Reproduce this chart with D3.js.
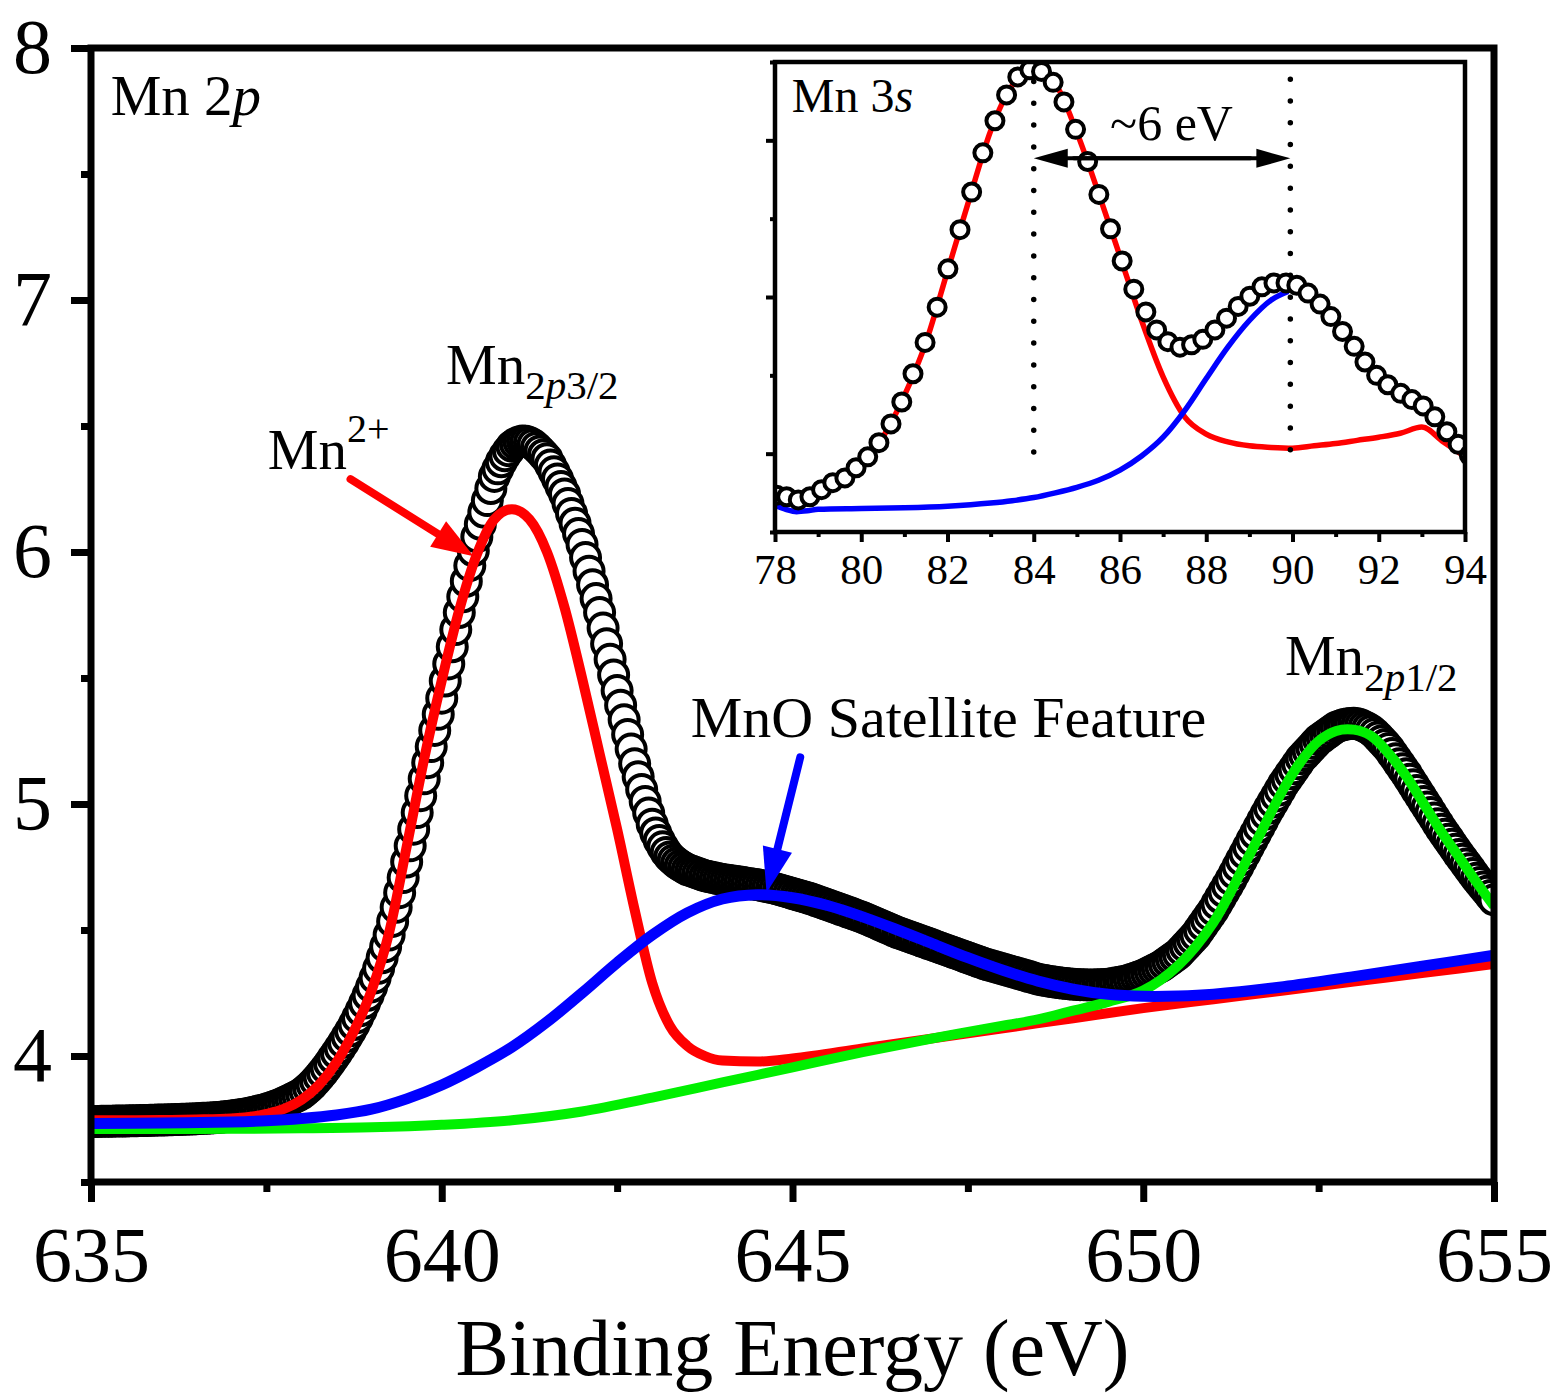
<!DOCTYPE html>
<html><head><meta charset="utf-8">
<script src="https://cdn.jsdelivr.net/npm/d3@7"></script>
<style>body{margin:0;background:#fff}</style>
</head><body>
<svg id="chart" width="1559" height="1394"></svg>
<script>
// ---------- DATA ----------
// Mn 2p measured data, 635.00 ... 655.00 eV in 0.05 eV steps
const mn2pIntensity = [
3.740,3.740,3.740,3.741,3.741,3.741,3.741,3.742,3.742,3.742,3.742,3.743,3.743,3.743,3.744,3.744,3.744,3.745,3.745,3.746,
3.746,3.746,3.747,3.747,3.748,3.748,3.749,3.749,3.750,3.750,3.751,3.752,3.753,3.753,3.754,3.755,3.756,3.757,3.759,3.760,
3.762,3.764,3.766,3.768,3.770,3.773,3.776,3.779,3.783,3.786,3.790,3.794,3.799,3.804,3.809,3.815,3.821,3.828,3.835,3.842,
3.850,3.861,3.873,3.886,3.901,3.917,3.934,3.952,3.971,3.991,4.011,4.032,4.054,4.077,4.100,4.125,4.152,4.180,4.210,4.241,
4.274,4.310,4.348,4.390,4.434,4.480,4.534,4.590,4.648,4.708,4.770,4.834,4.900,4.966,5.033,5.100,5.164,5.228,5.292,5.356,
5.420,5.488,5.556,5.624,5.692,5.760,5.822,5.884,5.946,6.005,6.060,6.110,6.158,6.204,6.252,6.300,6.330,6.358,6.382,6.402,
6.420,6.430,6.437,6.440,6.439,6.435,6.427,6.415,6.401,6.386,6.370,6.345,6.318,6.290,6.260,6.230,6.192,6.153,6.114,6.073,
6.030,5.978,5.924,5.870,5.815,5.760,5.698,5.636,5.574,5.512,5.450,5.392,5.334,5.276,5.218,5.160,5.108,5.058,5.010,4.964,
4.920,4.885,4.855,4.830,4.808,4.790,4.777,4.766,4.756,4.748,4.740,4.735,4.730,4.725,4.720,4.715,4.712,4.709,4.706,4.703,
4.700,4.698,4.696,4.694,4.692,4.690,4.688,4.686,4.684,4.682,4.680,4.677,4.674,4.671,4.668,4.665,4.661,4.657,4.653,4.649,
4.645,4.641,4.637,4.633,4.629,4.625,4.620,4.615,4.610,4.605,4.600,4.595,4.590,4.585,4.580,4.575,4.570,4.565,4.560,4.555,
4.550,4.544,4.538,4.532,4.526,4.520,4.514,4.508,4.502,4.496,4.490,4.485,4.480,4.475,4.470,4.465,4.460,4.455,4.450,4.445,
4.440,4.435,4.430,4.425,4.420,4.415,4.410,4.405,4.400,4.395,4.390,4.385,4.380,4.375,4.370,4.365,4.361,4.357,4.353,4.349,
4.345,4.341,4.337,4.333,4.329,4.325,4.321,4.317,4.313,4.309,4.305,4.302,4.300,4.297,4.295,4.293,4.291,4.289,4.288,4.286,
4.285,4.284,4.283,4.283,4.282,4.282,4.282,4.283,4.283,4.284,4.285,4.287,4.290,4.292,4.295,4.297,4.302,4.306,4.311,4.315,
4.320,4.327,4.334,4.341,4.348,4.355,4.365,4.375,4.385,4.395,4.405,4.420,4.435,4.450,4.465,4.480,4.500,4.520,4.540,4.560,
4.580,4.604,4.628,4.652,4.676,4.700,4.726,4.752,4.778,4.804,4.830,4.856,4.882,4.908,4.934,4.960,4.984,5.008,5.032,5.056,
5.080,5.100,5.120,5.140,5.160,5.180,5.195,5.210,5.225,5.240,5.255,5.265,5.275,5.285,5.295,5.305,5.310,5.314,5.317,5.319,
5.320,5.318,5.314,5.308,5.301,5.292,5.280,5.266,5.251,5.236,5.220,5.200,5.180,5.160,5.140,5.120,5.098,5.076,5.054,5.032,
5.010,4.988,4.966,4.944,4.922,4.900,4.880,4.860,4.840,4.820,4.800,4.781,4.762,4.743,4.724,4.705,4.688,4.671,4.654,4.637,
4.620];
const mn2pEnergy = mn2pIntensity.map((_, i) => 635 + i * 0.05);

// Mn2+ component (red)
const redEnergy = [635,635.5,636,636.5,637,637.5,637.75,638,638.25,638.5,638.75,639,639.25,639.5,639.75,640,640.25,640.5,640.75,641,641.25,641.5,641.75,642,642.25,642.5,642.75,643,643.25,643.5,643.75,644,644.5,645,646,647,648,649,650,651,652,653,654,655];
const redValue  = [3.745,3.745,3.746,3.748,3.752,3.770,3.790,3.826,3.885,3.975,4.100,4.260,4.490,4.830,5.180,5.490,5.770,5.990,6.130,6.170,6.130,6.000,5.780,5.500,5.200,4.900,4.580,4.290,4.120,4.040,4.000,3.982,3.978,3.990,4.030,4.070,4.110,4.150,4.190,4.225,4.260,4.295,4.330,4.365];

// MnO satellite component (blue)
const blueEnergy = [635,636,637,637.5,638,638.5,639,639.5,640,640.5,641,641.5,642,642.5,643,643.5,644,644.5,645,645.5,646,646.5,647,647.5,648,648.5,649,649.5,650,650.5,651,652,653,654,655];
const blueValue  = [3.732,3.734,3.738,3.743,3.752,3.766,3.789,3.830,3.885,3.955,4.035,4.135,4.250,4.370,4.480,4.568,4.623,4.640,4.628,4.597,4.552,4.500,4.445,4.390,4.340,4.297,4.265,4.245,4.237,4.238,4.245,4.275,4.315,4.357,4.400];

// Mn 2p1/2 component (green)
const greenEnergy = [635,636,637,638,639,640,641,642,643,644,645,646,647,648,648.5,649,649.5,650,650.5,651,651.5,652,652.25,652.5,652.75,653,653.25,653.5,653.75,654,654.25,654.5,654.75,655];
const greenValue  = [3.71,3.71,3.711,3.713,3.717,3.727,3.745,3.78,3.835,3.895,3.955,4.015,4.07,4.12,4.145,4.18,4.215,4.26,4.36,4.53,4.79,5.06,5.17,5.25,5.29,5.295,5.27,5.20,5.11,5.00,4.89,4.79,4.69,4.595];

// Inset: Mn 3s
const mn3sEnergy = [78.04,78.27,78.54,78.81,79.08,79.34,79.62,79.88,80.15,80.41,80.69,80.94,81.20,81.48,81.76,82.01,82.29,82.56,82.82,83.10,83.37,83.63,83.91,84.18,84.45,84.70,84.97,85.25,85.51,85.78,86.05,86.32,86.60,86.85,87.11,87.39,87.66,87.92,88.20,88.47,88.74,89.01,89.29,89.57,89.85,90.10,90.36,90.64,90.89,91.16,91.43,91.68,91.95,92.21,92.51,92.77,93.03,93.30,93.58,93.84,94.10];
const mn3sIntensity = [0.47,0.45,0.41,0.45,0.54,0.63,0.69,0.82,0.96,1.14,1.38,1.66,2.02,2.42,2.87,3.36,3.86,4.34,4.84,5.25,5.58,5.81,5.90,5.88,5.74,5.49,5.14,4.73,4.31,3.87,3.46,3.10,2.81,2.58,2.43,2.36,2.39,2.46,2.58,2.73,2.88,3.01,3.13,3.18,3.18,3.15,3.05,2.91,2.75,2.56,2.37,2.17,2.00,1.88,1.77,1.69,1.61,1.47,1.28,1.12,0.98];
const insetRedEnergy = [78,78.5,79,79.5,80,80.5,81,81.5,82,82.5,83,83.5,84,84.5,85,85.5,86,86.5,87,87.5,88,88.5,89,89.5,90,90.5,91,91.5,92,92.5,93,93.5,94];
const insetRedValue  = [0.45,0.43,0.52,0.66,0.88,1.21,1.74,2.42,3.33,4.24,5.12,5.70,5.90,5.72,5.10,4.33,3.52,2.70,1.98,1.47,1.25,1.15,1.10,1.08,1.07,1.10,1.13,1.17,1.21,1.26,1.34,1.15,0.96];
const insetBlueEnergy = [78,78.25,78.5,78.75,79,80,81,82,83,83.5,84,84.5,85,85.5,86,86.5,87,87.5,88,88.5,89,89.5,89.9];
const insetBlueValue  = [0.34,0.29,0.26,0.27,0.29,0.30,0.31,0.33,0.37,0.40,0.44,0.50,0.57,0.66,0.79,0.97,1.21,1.55,1.96,2.36,2.70,2.96,3.07];
const splitPeaks = [84.0, 89.95];   // peak positions marked by dotted lines

// Tick values
const xMajorTicks = [635,640,645,650,655];
const xMinorTicks = [637.5,642.5,647.5,652.5];
const yMajorTicks = [4,5,6,7,8];
const yMinorTicks = [3.5,4.5,5.5,6.5,7.5];
const insetXMajor = [78,80,82,84,86,88,90,92,94];
const insetXMinor = [79,81,83,85,87,89,91,93];
const insetYMajor = [1,3,5];
const insetYMinor = [0,2,4,6];

// ---------- DRAW ----------
const FONT = "'Liberation Serif','Times New Roman',serif";
const svg = d3.select("#chart");
const defs = svg.append("defs");

const x = d3.scaleLinear([635, 655], [91, 1494]);
const y = d3.scaleLinear([3.5, 8], [1182, 48]);
const [X0, X1] = x.range(), [Y0, Y1] = y.range();

defs.append("clipPath").attr("id", "mainClip").append("rect")
  .attr("x", X0).attr("y", Y1).attr("width", X1 - X0).attr("height", Y0 - Y1);

const plot = svg.append("g").attr("clip-path", "url(#mainClip)");
plot.selectAll("circle.pt").data(d3.zip(mn2pEnergy, mn2pIntensity)).join("circle")
  .attr("class", "pt").attr("cx", d => x(d[0])).attr("cy", d => y(d[1])).attr("r", 14.5)
  .attr("fill", "#fff").attr("stroke", "#000").attr("stroke-width", 4);

const line = (sx, sy, c) => d3.line().x(d => sx(d[0])).y(d => sy(d[1])).curve(c || d3.curveMonotoneX);
const mainLine = line(x, y);
const smoothLine = line(x, y, d3.curveCatmullRom.alpha(0.5));
plot.append("path").attr("d", mainLine(d3.zip(redEnergy, redValue))).attr("fill", "none").attr("stroke", "#ff0000").attr("stroke-width", 10);
plot.append("path").attr("d", smoothLine(d3.zip(greenEnergy, greenValue))).attr("fill", "none").attr("stroke", "#00f000").attr("stroke-width", 10);
plot.append("path").attr("d", smoothLine(d3.zip(blueEnergy, blueValue))).attr("fill", "none").attr("stroke", "#0000ff").attr("stroke-width", 11);

// main axes
function styleAxis(g, fs) {
  g.select(".domain").remove();
  g.selectAll("line").attr("stroke", "#000").attr("stroke-width", 7);
  g.selectAll("text").attr("font-family", FONT).attr("font-size", fs).attr("fill", "#000");
}
svg.append("g").attr("transform", `translate(${X0},0)`)
  .call(d3.axisLeft(y).tickValues(yMajorTicks).tickSize(20).tickPadding(19).tickFormat(d3.format("d")))
  .call(g => styleAxis(g, 78));
svg.append("g").attr("transform", `translate(${X0},0)`)
  .call(d3.axisLeft(y).tickValues(yMinorTicks).tickSize(10).tickFormat(""))
  .call(g => styleAxis(g, 78));
svg.append("g").attr("transform", `translate(0,${Y0})`)
  .call(d3.axisBottom(x).tickValues(xMajorTicks).tickSize(20).tickPadding(24).tickFormat(d3.format("d")))
  .call(g => styleAxis(g, 78));
svg.append("g").attr("transform", `translate(0,${Y0})`)
  .call(d3.axisBottom(x).tickValues(xMinorTicks).tickSize(10).tickFormat(""))
  .call(g => styleAxis(g, 78));
svg.append("rect").attr("x", X0).attr("y", Y1).attr("width", X1 - X0).attr("height", Y0 - Y1)
  .attr("fill", "none").attr("stroke", "#000").attr("stroke-width", 7);

svg.append("text").attr("x", (X0 + X1) / 2).attr("y", 1375).attr("text-anchor", "middle")
  .attr("font-family", FONT).attr("font-size", 80).text("Binding Energy (eV)");

// annotations (placed in data coordinates)
function label(px, py, parts, fs) {
  const t = svg.append("text").attr("x", px).attr("y", py).attr("font-family", FONT).attr("font-size", fs);
  parts.forEach(p => {
    const s = t.append("tspan").text(p.t);
    if (p.fs) s.attr("font-size", p.fs);
    if (p.dy) s.attr("dy", p.dy);
    if (p.it) s.attr("font-style", "italic");
  });
  return t;
}
label(x(635.28), y(7.735), [{t: "Mn 2"}, {t: "p", it: 1}], 57);
label(x(640.06), y(6.666), [{t: "Mn"}, {t: "2", fs: 41, dy: 15}, {t: "p", fs: 41, it: 1}, {t: "3/2", fs: 41}], 57);
label(x(637.52), y(6.329), [{t: "Mn"}, {t: "2+", fs: 40, dy: -27}], 57);
label(x(643.55), y(5.264), [{t: "MnO Satellite Feature"}], 58);
label(x(652.02), y(5.51), [{t: "Mn"}, {t: "2", fs: 41, dy: 16}, {t: "p", fs: 41, it: 1}, {t: "1/2", fs: 41}], 57);

function arrow(g, x1, y1, x2, y2, color, w, hl, hw) {
  const dx = x2 - x1, dy = y2 - y1, L = Math.hypot(dx, dy), ux = dx / L, uy = dy / L;
  const bx = x2 - ux * hl, by = y2 - uy * hl;
  g.append("line").attr("x1", x1).attr("y1", y1).attr("x2", bx + ux * 2).attr("y2", by + uy * 2)
    .attr("stroke", color).attr("stroke-width", w).attr("stroke-linecap", "round");
  g.append("path").attr("d", `M${x2},${y2}L${bx - uy * hw},${by + ux * hw}L${bx + uy * hw},${by - ux * hw}Z`).attr("fill", color);
}
arrow(svg, x(638.70), y(6.289), x(640.456), y(5.983), "#ff0000", 8, 42, 15);
arrow(svg, x(645.11), y(5.185), x(644.63), y(4.648), "#0000ff", 8, 45, 15);

// ---------- INSET ----------
const xi = d3.scaleLinear([78, 94], [775, 1465]);
const yi = d3.scaleLinear([0, 6], [532, 62]);
const [I0, I1] = xi.range(), [J0, J1] = yi.range();
defs.append("clipPath").attr("id", "insetClip").append("rect")
  .attr("x", I0).attr("y", J1).attr("width", I1 - I0).attr("height", J0 - J1);
svg.append("rect").attr("x", I0).attr("y", J1).attr("width", I1 - I0).attr("height", J0 - J1).attr("fill", "#fff");
const ins = svg.append("g").attr("clip-path", "url(#insetClip)");
const insLine = line(xi, yi);
ins.append("path").attr("d", insLine(d3.zip(insetRedEnergy, insetRedValue))).attr("fill", "none").attr("stroke", "#ff0000").attr("stroke-width", 5.5);
ins.append("path").attr("d", insLine(d3.zip(insetBlueEnergy, insetBlueValue))).attr("fill", "none").attr("stroke", "#0000ff").attr("stroke-width", 5.5);
ins.selectAll("circle").data(d3.zip(mn3sEnergy, mn3sIntensity)).join("circle")
  .attr("cx", d => xi(d[0])).attr("cy", d => yi(d[1])).attr("r", 8.5)
  .attr("fill", "#fff").attr("stroke", "#000").attr("stroke-width", 4);
// dotted lines at peak positions
const dotTop = [5.9, 5.95], dotBottom = [1.02, 1.05];
splitPeaks.forEach((e, i) => {
  ins.append("line").attr("x1", xi(e)).attr("x2", xi(e)).attr("y1", yi(dotBottom[i])).attr("y2", yi(dotTop[i]))
    .attr("stroke", "#000").attr("stroke-width", 5.5).attr("stroke-linecap", "round").attr("stroke-dasharray", "0 21.8");
});
// double arrow
const ay = yi(4.77);
arrow(ins, xi(splitPeaks[1]) - 40, ay, xi(splitPeaks[0]), ay, "#000", 4, 34, 9.5);
arrow(ins, xi(splitPeaks[0]) + 40, ay, xi(splitPeaks[1]), ay, "#000", 4, 34, 9.5);

label(xi(78.39), yi(5.36), [{t: "Mn 3"}, {t: "s", it: 1}], 48);
label(xi(85.77), yi(5.0), [{t: "~6 eV"}], 50);

// inset axes
function styleInset(g) {
  g.select(".domain").remove();
  g.selectAll("line").attr("stroke", "#000").attr("stroke-width", 4);
  g.selectAll("text").attr("font-family", FONT).attr("font-size", 43).attr("fill", "#000");
}
svg.append("g").attr("transform", `translate(0,${J0})`)
  .call(d3.axisBottom(xi).tickValues(insetXMajor).tickSize(10).tickPadding(11).tickFormat(d3.format("d"))).call(styleInset);
svg.append("g").attr("transform", `translate(0,${J0})`)
  .call(d3.axisBottom(xi).tickValues(insetXMinor).tickSize(5).tickFormat("")).call(styleInset);
svg.append("g").attr("transform", `translate(${I0},0)`)
  .call(d3.axisLeft(yi).tickValues(insetYMajor).tickSize(9).tickFormat("")).call(styleInset);
svg.append("g").attr("transform", `translate(${I0},0)`)
  .call(d3.axisLeft(yi).tickValues(insetYMinor).tickSize(5).tickFormat("")).call(styleInset);
svg.append("rect").attr("x", I0).attr("y", J1).attr("width", I1 - I0).attr("height", J0 - J1)
  .attr("fill", "none").attr("stroke", "#000").attr("stroke-width", 4.5);
</script>
</body></html>
